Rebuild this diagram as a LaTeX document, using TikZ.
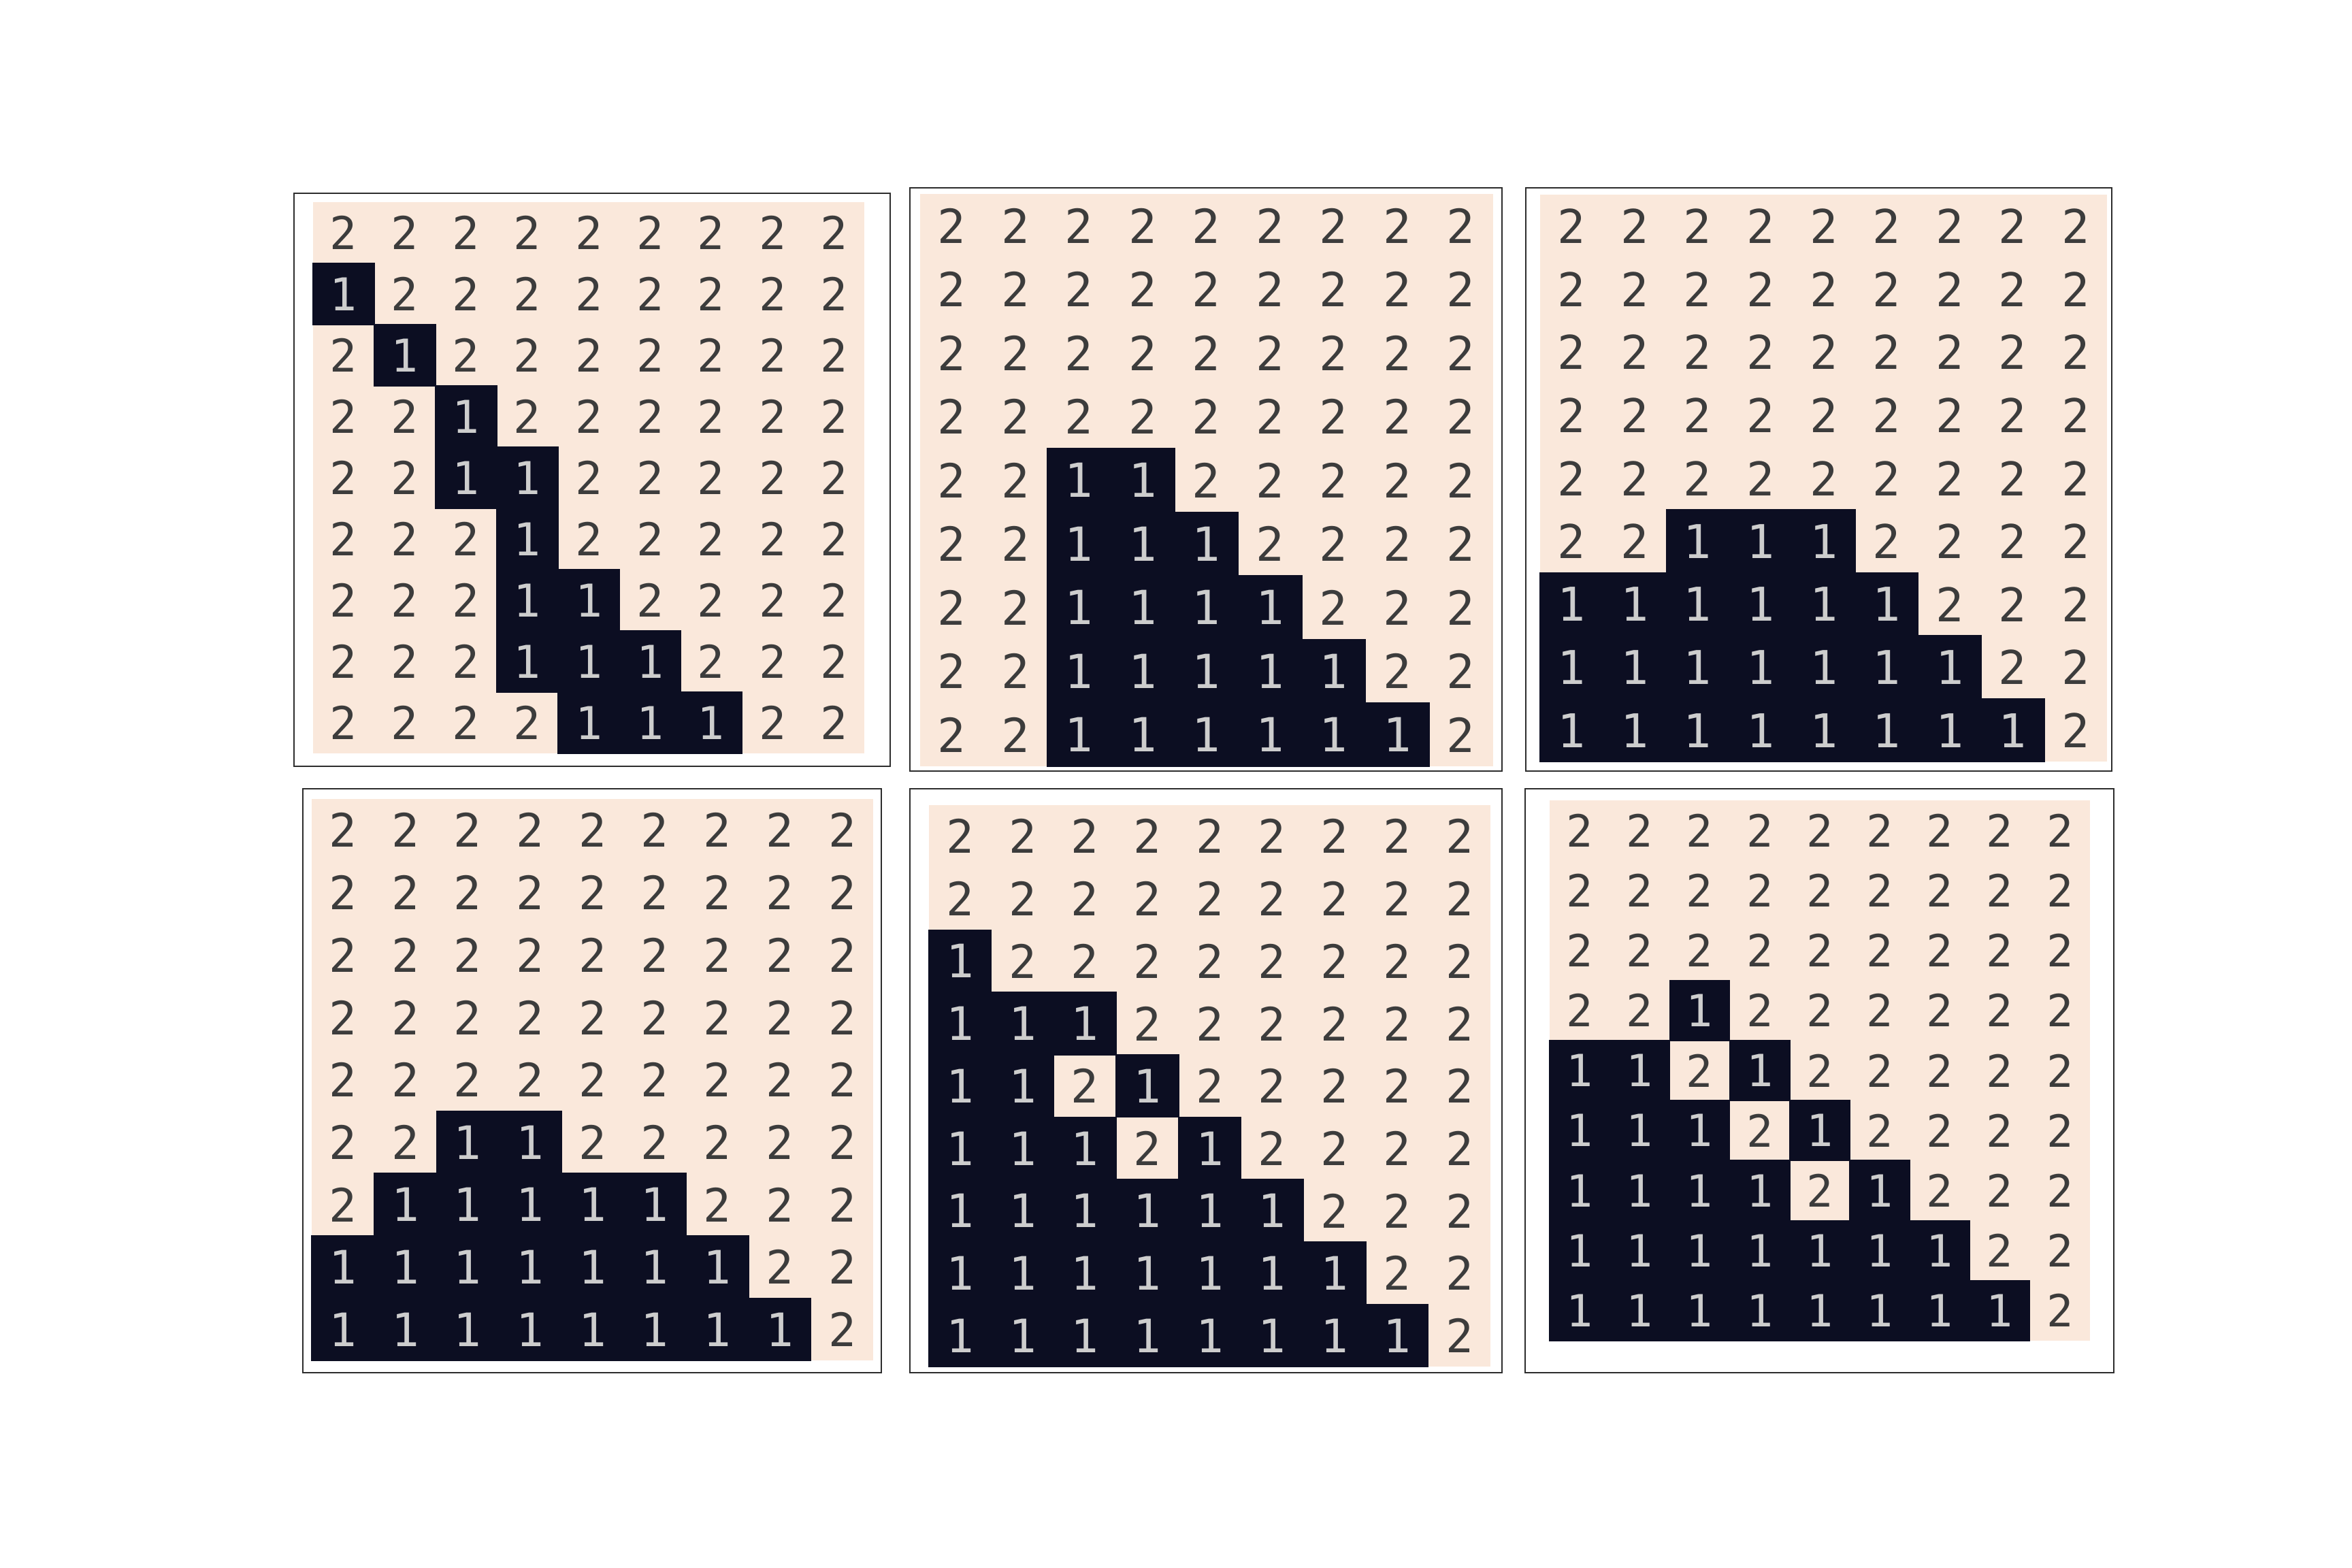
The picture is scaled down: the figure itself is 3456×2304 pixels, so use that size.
\documentclass[tikz,border=0pt]{standalone}
\usepackage{fontspec}
\newfontfamily\digitfont{DejaVu Sans Mono}
\definecolor{bgbeige}{RGB}{250,232,219}
\definecolor{inkdark}{RGB}{12,14,34}
\definecolor{onegray}{RGB}{205,205,205}
\definecolor{twogray}{RGB}{60,60,60}
\definecolor{framegray}{RGB}{45,45,45}

% one 9x9 panel: name, left, top, cell size, rows
\newcommand{\drawgrid}[5]{%
  \pgfmathsetmacro\fs{#4*0.21}
  \fill[bgbeige] (#2,#3) rectangle ++(9*#4,9*#4);
  \foreach \row [count=\i from 0] in {#5} {
    \foreach \v [count=\j from 0] in \row {
      \node[cell=\v, minimum size=#4*0.01cm,
        font={\digitfont\fontsize{\fs}{\fs}\selectfont}]
        (#1-\i-\j) at (#2+#4*\j+#4/2, #3+#4*\i+#4/2) {\v};
    }
  }
}

\begin{document}
\begin{tikzpicture}[x=0.01cm, y=-0.01cm,
  celldark/.style={fill=inkdark, draw=inkdark, line width=0.4pt, text=onegray},
  celllight/.style={text=twogray},
  cell/.code={\ifnum#1=1\relax\tikzset{celldark}\else\tikzset{celllight}\fi},
  cell/.append style={inner sep=0pt, outer sep=0pt},
  frame/.style={draw=framegray, line width=0.6pt}]
\useasboundingbox (0,0) rectangle (3456,2304);

% frames
\draw[frame] (432,284) rectangle (1308,1126);
\draw[frame] (1337,276) rectangle (2207,1133);
\draw[frame] (2242,276) rectangle (3103,1133);
\draw[frame] (445,1159) rectangle (1295,2017);
\draw[frame] (1337,1159) rectangle (2207,2017);
\draw[frame] (2241,1159) rectangle (3106,2017);

% top row
\drawgrid{pa}{460}{297}{90}{
  {2,2,2,2,2,2,2,2,2},{1,2,2,2,2,2,2,2,2},{2,1,2,2,2,2,2,2,2},
  {2,2,1,2,2,2,2,2,2},{2,2,1,1,2,2,2,2,2},{2,2,2,1,2,2,2,2,2},
  {2,2,2,1,1,2,2,2,2},{2,2,2,1,1,1,2,2,2},{2,2,2,2,1,1,1,2,2}}
\drawgrid{pb}{1352}{285}{93.5}{
  {2,2,2,2,2,2,2,2,2},{2,2,2,2,2,2,2,2,2},{2,2,2,2,2,2,2,2,2},
  {2,2,2,2,2,2,2,2,2},{2,2,1,1,2,2,2,2,2},{2,2,1,1,1,2,2,2,2},
  {2,2,1,1,1,1,2,2,2},{2,2,1,1,1,1,1,2,2},{2,2,1,1,1,1,1,1,2}}
\drawgrid{pc}{2263}{286}{92.6}{
  {2,2,2,2,2,2,2,2,2},{2,2,2,2,2,2,2,2,2},{2,2,2,2,2,2,2,2,2},
  {2,2,2,2,2,2,2,2,2},{2,2,2,2,2,2,2,2,2},{2,2,1,1,1,2,2,2,2},
  {1,1,1,1,1,1,2,2,2},{1,1,1,1,1,1,1,2,2},{1,1,1,1,1,1,1,1,2}}

% bottom row
\drawgrid{pd}{458}{1174}{91.7}{
  {2,2,2,2,2,2,2,2,2},{2,2,2,2,2,2,2,2,2},{2,2,2,2,2,2,2,2,2},
  {2,2,2,2,2,2,2,2,2},{2,2,2,2,2,2,2,2,2},{2,2,1,1,2,2,2,2,2},
  {2,1,1,1,1,1,2,2,2},{1,1,1,1,1,1,1,2,2},{1,1,1,1,1,1,1,1,2}}
\drawgrid{pe}{1365}{1183}{91.7}{
  {2,2,2,2,2,2,2,2,2},{2,2,2,2,2,2,2,2,2},{1,2,2,2,2,2,2,2,2},
  {1,1,1,2,2,2,2,2,2},{1,1,2,1,2,2,2,2,2},{1,1,1,2,1,2,2,2,2},
  {1,1,1,1,1,1,2,2,2},{1,1,1,1,1,1,1,2,2},{1,1,1,1,1,1,1,1,2}}
\drawgrid{pf}{2277}{1176}{88.2}{
  {2,2,2,2,2,2,2,2,2},{2,2,2,2,2,2,2,2,2},{2,2,2,2,2,2,2,2,2},
  {2,2,1,2,2,2,2,2,2},{1,1,2,1,2,2,2,2,2},{1,1,1,2,1,2,2,2,2},
  {1,1,1,1,2,1,2,2,2},{1,1,1,1,1,1,1,2,2},{1,1,1,1,1,1,1,1,2}}
\end{tikzpicture}
\end{document}
